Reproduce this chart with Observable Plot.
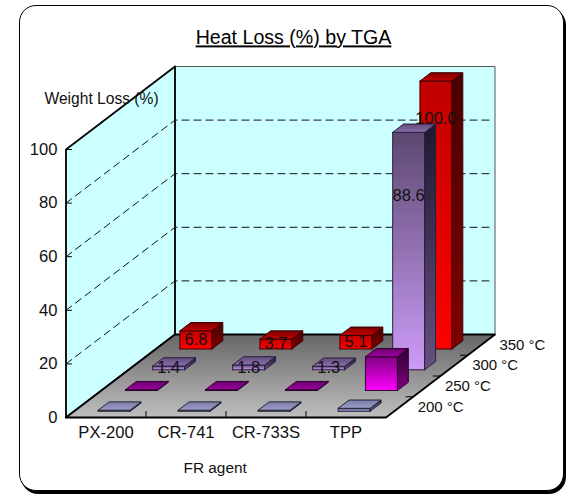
<!DOCTYPE html>
<html>
<head>
<meta charset="utf-8">
<script src="https://cdn.jsdelivr.net/npm/d3@7"></script>
<script src="https://cdn.jsdelivr.net/npm/@observablehq/plot@0.6"></script>
<style>
html, body { margin: 0; padding: 0; background: #fff; }
#frame { position: absolute; left: 19px; top: 5px; width: 543px; height: 484px; border: 1.5px solid #000; border-radius: 17px; box-shadow: 2px 3px 0 #000; background: #fff; }
#chart { position: absolute; left: 0; top: 0; }
svg { display: block; }
.underlined text { text-decoration: underline; }
</style>
</head>
<body>
<div id="frame"></div>
<div id="chart"></div>
<script>
const agents = ["PX-200", "CR-741", "CR-733S", "TPP"];
const temperatures = ["200 °C", "250 °C", "300 °C", "350 °C"];
const loss200 = [0.4, 0.4, 0.4, 1.1];
const loss250 = [0.3, 0.3, 0.3, 12.6];
const loss300 = [1.4, 1.8, 1.3, 88.6];
const loss350 = [6.8, 3.7, 5.1, 100.0];
const series = [loss200, loss250, loss300, loss350];
const labelled = [false, false, true, true];
const valueTicks = [0, 20, 40, 60, 80, 100];
// Height on the value axis at which the two tall bars carry their labels.
const tallLabelHeights = new Map([[88.6, 65], [100, 86]]);

// Oblique projection: one step of depth shifts along both axes.
const depthX = 27.25 / 80;   // categories per temperature step
const depthY = 20.75 / 2.68; // percent per temperature step
const px = (a, t) => a + t * depthX;
const py = (t, v) => v + t * depthY;
const pt = (a, t, v) => ({x: px(a, t), y: py(t, v)});

const ramps = {
  floor: ["#666666", "#bfbfbf"],
  redFront: ["#c00000", "#ff0000"], redSide: ["#480000", "#800000"], redTop: ["#780000", "#c80000"],
  purpleFront: ["#5c4870", "#cc9cf8"], purpleSide: ["#201830", "#665080"], purpleTop: ["#604c78", "#8c70b0"],
  magentaFront: ["#800080", "#ff00ff"], magentaSide: ["#300030", "#800080"], magentaTop: ["#680068", "#a000a0"],
  slateFront: ["#666699", "#9c9cd0"], slateSide: ["#333355", "#666699"], slateTop: ["#7c7ca8", "#9c9cc8"]
};
const seriesStyle = [
  {name: "slate", stroke: "#222233"},
  {name: "magenta", stroke: "#300030"},
  {name: "purple", stroke: "#2a2040"},
  {name: "red", stroke: "#400000"}
];
const barW = 0.4, barD = 0.4;

let id = 0;
function poly(points, fill, stroke) {
  const k = id++;
  return [...points, points[0]].map(p => ({...p, id: k, fill, stroke}));
}

const faces = [];
for (let j = 3; j >= 0; --j) {
  for (let i = 0; i < 4; ++i) {
    const v = series[j][i], st = seriesStyle[j];
    const a0 = i + 0.5 - barW / 2, a1 = a0 + barW;
    const t0 = j + 0.5 - barD / 2, t1 = t0 + barD;
    faces.push(
      ...poly([pt(a0, t0, 0), pt(a1, t0, 0), pt(a1, t0, v), pt(a0, t0, v)], `url(#${st.name}Front)`, st.stroke),
      ...poly([pt(a1, t0, 0), pt(a1, t1, 0), pt(a1, t1, v), pt(a1, t0, v)], `url(#${st.name}Side)`, st.stroke),
      ...poly([pt(a0, t0, v), pt(a1, t0, v), pt(a1, t1, v), pt(a0, t1, v)], `url(#${st.name}Top)`, st.stroke)
    );
  }
}

const backWall = poly([pt(0, 4, 0), pt(4, 4, 0), pt(4, 4, 100), pt(0, 4, 100)], "#ccffff", "#555555");
const leftWall = poly([pt(0, 0, 0), pt(0, 4, 0), pt(0, 4, 100), pt(0, 0, 100)], "#ccffff", "#000000");
const floor = poly([pt(0, 0, 0), pt(4, 0, 0), pt(4, 4, 0), pt(0, 4, 0)], "url(#floor)", "#000000");

const grid = valueTicks.filter(v => v > 0).flatMap(v => {
  const k = id++;
  return [pt(0, 0, v), pt(0, 4, v), ...(v < 100 ? [pt(3.96, 4, v)] : [])].map(p => ({...p, id: k}));
});

const labels = [];
series.forEach((values, j) => {
  if (!labelled[j]) return;
  values.forEach((v, i) => {
    const at = tallLabelHeights.has(v) ? tallLabelHeights.get(v) : v / 2;
    labels.push({...pt(i + 0.5, j + 0.5 - barD / 2, at), text: v.toFixed(1)});
  });
});

const defs = () => {
  const d = d3.create("svg:defs");
  for (const [key, [c0, c1]] of Object.entries(ramps)) {
    const g = d.append("linearGradient").attr("id", key).attr("x1", 0).attr("y1", 0).attr("x2", 0).attr("y2", 1);
    g.append("stop").attr("offset", 0).attr("stop-color", c0);
    g.append("stop").attr("offset", 1).attr("stop-color", c1);
  }
  return d.node();
};

const polygons = (data, strokeWidth) => Plot.line(data, {
  x: "x", y: "y", z: "id", fill: "fill", stroke: "stroke", strokeWidth, curve: "linear"
});

const fontFamily = "Liberation Sans, Arial, sans-serif";

const chart = Plot.plot({
  width: 567,
  height: 495,
  margin: 0,
  x: {domain: [0, 4], range: [65.5, 385.5], axis: null},
  y: {domain: [0, 100], range: [417, 149], axis: null},
  color: {type: "identity"},
  style: {background: "transparent", fontFamily, fontSize: "15px", color: "#111"},
  marks: [
    defs,
    polygons(backWall, 1),
    polygons(leftWall, 1.8),
    polygons(floor, 1.8),
    // grid lines
    Plot.line(grid, {x: "x", y: "y", z: "id", stroke: "#111", strokeWidth: 1, strokeDasharray: "7 5"}),
    // value ticks
    Plot.ruleY(valueTicks.filter(v => v > 0), {y: d => d, x1: 0, x2: 0.08, stroke: "#000"}),
    // category ticks
    Plot.ruleX([1, 2, 3], {x: d => d, y1: 0, y2: 2.2, stroke: "#000"}),
    // depth ticks
    Plot.ruleY([1, 2, 3], {y: d => py(d, 0), x1: d => px(4, d), x2: d => px(4, d) - 0.09, stroke: "#000"}),
    polygons(faces, 1),
    // tick labels
    Plot.text(valueTicks, {x: 0, y: d => d, text: d => String(d), textAnchor: "end", dx: -8.5, fontSize: 16.6, fill: "#111"}),
    Plot.text(agents, {x: (d, i) => i + 0.5, y: 0, text: d => d, dy: 15, fontSize: 16.6, fill: "#111"}),
    Plot.text(temperatures, {x: (d, i) => px(4, i + 0.5), y: (d, i) => py(i + 0.5, 0), text: d => d, textAnchor: "start", dx: 18, fontSize: 15, fill: "#111"}),
    // bar labels
    Plot.text(labels, {x: "x", y: "y", text: "text", fontSize: 16.5, fill: "#111"}),
    // titles
    Plot.text(["Weight Loss (%)"], {frameAnchor: "top-left", dx: 44, dy: 92, text: d => d, textAnchor: "start", lineAnchor: "top", fontSize: 15.6, fill: "#111"}),
    Plot.text(["FR agent"], {frameAnchor: "top-left", dx: 183, dy: 462, text: d => d, textAnchor: "start", lineAnchor: "top", fontSize: 15.4, fill: "#111"}),
    Plot.text(["Heat Loss (%) by TGA"], {frameAnchor: "top-left", dx: 293, dy: 30, text: d => d, textAnchor: "middle", lineAnchor: "top", fontSize: 19.6, fill: "#000", className: "underlined"})
  ]
});
document.getElementById("chart").appendChild(chart);
</script>
</body>
</html>
